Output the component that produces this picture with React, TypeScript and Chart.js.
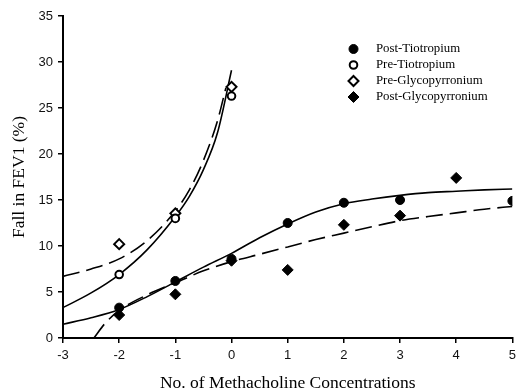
import React, { useEffect, useRef } from "react";
import { Chart, registerables } from "chart.js";

Chart.register(...registerables);

const SERIF = "'Times New Roman', 'Liberation Serif', serif";
const SANS = "Arial, 'Liberation Sans', sans-serif";

// Observed points
const postTioX = [-2, -1, 0, 1, 2, 3, 5];
const postTioY = [3.3, 6.2, 8.6, 12.5, 14.7, 15.0, 14.9];
const preTioX = [-2, -1, 0];
const preTioY = [6.9, 13.0, 26.3];
const preGlyX = [-2, -1, 0];
const preGlyY = [10.2, 13.55, 27.3];
const postGlyX = [-2, -1, 0, 1, 2, 3, 4];
const postGlyY = [2.5, 4.75, 8.4, 7.4, 12.3, 13.3, 17.4];

// Fitted curves
const preTioFitX = [-3, -2.5, -2, -1.5, -1, -0.75, -0.5, -0.25, 0];
const preTioFitY = [3.3, 4.9, 6.9, 9.6, 13.2, 15.4, 18.3, 22.3, 29.1];
const preGlyFitX = [-3, -2.5, -2, -1.5, -1, -0.75, -0.5, -0.25, -0.1];
const preGlyFitY = [6.7, 7.5, 8.6, 10.6, 13.8, 16.1, 19.3, 23.6, 27.2];
const postTioFitX = [-3, -2.5, -2, -1.5, -1, -0.5, 0, 0.5, 1, 1.5, 2, 2.5, 3, 3.5, 4, 4.5, 5];
const postTioFitY = [1.5, 2.2, 3.1, 4.5, 6.1, 7.7, 9.2, 10.9, 12.4, 13.7, 14.6, 15.1, 15.5, 15.8, 15.95, 16.1, 16.2];
const postGlyFitX = [-2.45, -2.25, -2, -1.5, -1, -0.5, 0, 0.5, 1, 1.5, 2, 2.5, 3, 3.5, 4, 4.5, 5];
const postGlyFitY = [0, 1.6, 3.0, 4.7, 6.0, 7.3, 8.3, 9.1, 9.9, 10.7, 11.4, 12.1, 12.75, 13.2, 13.6, 14.0, 14.3];

const legendLabels = ["Post-Tiotropium", "Pre-Tiotropium", "Pre-Glycopyrronium", "Post-Glycopyrronium"];
const xTitle = "No. of Methacholine Concentrations";
const yTitle = "Fall in FEV1 (%)";

const zip = (xs: number[], ys: number[]) => xs.map((x, i) => ({ x, y: ys[i] }));

type Marker = { shape: "circle" | "diamond"; filled: boolean; r: number };
const markers: Marker[] = [
  { shape: "circle", filled: true, r: 4.5 },
  { shape: "circle", filled: false, r: 3.8 },
  { shape: "diamond", filled: false, r: 5 },
  { shape: "diamond", filled: true, r: 5.5 },
];

function drawMarker(ctx: CanvasRenderingContext2D, m: Marker, x: number, y: number) {
  ctx.save();
  ctx.beginPath();
  if (m.shape === "circle") {
    ctx.arc(x, y, m.r, 0, Math.PI * 2);
  } else {
    ctx.moveTo(x, y - m.r);
    ctx.lineTo(x + m.r, y);
    ctx.lineTo(x, y + m.r);
    ctx.lineTo(x - m.r, y);
    ctx.closePath();
  }
  ctx.fillStyle = m.filled ? "#000" : "#fff";
  ctx.fill();
  ctx.lineWidth = m.filled ? 1 : 2;
  ctx.strokeStyle = "#000";
  ctx.stroke();
  ctx.restore();
}

const legendPlugin = {
  id: "customLegend",
  afterDraw(chart: any) {
    const ctx = chart.ctx as CanvasRenderingContext2D;
    ctx.save();
    ctx.font = `12.8px ${SERIF}`;
    ctx.fillStyle = "#000";
    ctx.textBaseline = "middle";
    ctx.textAlign = "left";
    legendLabels.forEach((label, i) => {
      const y = 49 + i * 16;
      drawMarker(ctx, markers[i], 353.5, y);
      ctx.fillText(label, 376, y);
    });
    ctx.restore();
  },
};

function pointDs(label: string, xs: number[], ys: number[], m: Marker) {
  return {
    type: "scatter" as const,
    label,
    data: zip(xs, ys),
    showLine: false,
    pointStyle: m.shape === "circle" ? "circle" : "rectRot",
    pointRadius: m.r,
    pointBackgroundColor: m.filled ? "#000" : "#fff",
    pointBorderColor: "#000",
    pointBorderWidth: m.filled ? 1 : 2,
    order: 0,
  };
}

function curveDs(xs: number[], ys: number[], dashed: boolean) {
  return {
    type: "scatter" as const,
    label: "",
    data: zip(xs, ys),
    showLine: true,
    pointRadius: 0,
    borderColor: "#000",
    borderWidth: 1.6,
    borderDash: dashed ? [17, 7] : [],
    cubicInterpolationMode: "monotone" as const,
    fill: false,
    order: 1,
  };
}

export default function App() {
  const ref = useRef<HTMLCanvasElement | null>(null);
  useEffect(() => {
    if (!ref.current) return;
    const chart = new Chart(ref.current, {
      type: "scatter",
      data: {
        datasets: [
          pointDs(legendLabels[0], postTioX, postTioY, markers[0]),
          pointDs(legendLabels[1], preTioX, preTioY, markers[1]),
          pointDs(legendLabels[2], preGlyX, preGlyY, markers[2]),
          pointDs(legendLabels[3], postGlyX, postGlyY, markers[3]),
          curveDs(preTioFitX, preTioFitY, false),
          curveDs(preGlyFitX, preGlyFitY, true),
          curveDs(postTioFitX, postTioFitY, false),
          curveDs(postGlyFitX, postGlyFitY, true),
        ] as any,
      },
      options: {
        animation: false,
        responsive: false,
        devicePixelRatio: 1,
        layout: { padding: { top: 16, right: 0, left: 0, bottom: 0 } },
        plugins: { legend: { display: false }, tooltip: { enabled: false } },
        scales: {
          x: {
            type: "linear",
            min: -3,
            max: 5,
            ticks: { stepSize: 1, font: { family: SANS, size: 13 }, color: "#111", padding: 5 },
            grid: { drawOnChartArea: false, drawTicks: true, tickLength: 5, color: "#000", lineWidth: 1.5 },
            border: { display: true, color: "#000", width: 2 },
            title: {
              display: true,
              text: xTitle,
              color: "#000",
              font: { family: SERIF, size: 17.5, lineHeight: 1 },
              padding: { top: 0, bottom: 0 },
            },
            afterFit: (s: any) => {
              s.height = 54;
            },
          },
          y: {
            type: "linear",
            min: 0,
            max: 35,
            ticks: { stepSize: 5, font: { family: SANS, size: 13 }, color: "#111", padding: 5 },
            grid: { drawOnChartArea: false, drawTicks: true, tickLength: 5, color: "#000", lineWidth: 1.5 },
            border: { display: true, color: "#000", width: 2 },
            title: {
              display: true,
              text: yTitle,
              color: "#000",
              font: { family: SERIF, size: 17.5, lineHeight: 1 },
              padding: { top: 11, bottom: 0 },
            },
            afterFit: (s: any) => {
              s.width = 63;
            },
          },
        },
      },
      plugins: [legendPlugin],
    });
    return () => chart.destroy();
  }, []);
  return (
    <div style={{ position: "absolute", left: 0, top: 0, width: 517, height: 392, overflow: "hidden", background: "#fff" }}>
      <canvas ref={ref} width={521} height={392} style={{ display: "block" }} />
    </div>
  );
}
